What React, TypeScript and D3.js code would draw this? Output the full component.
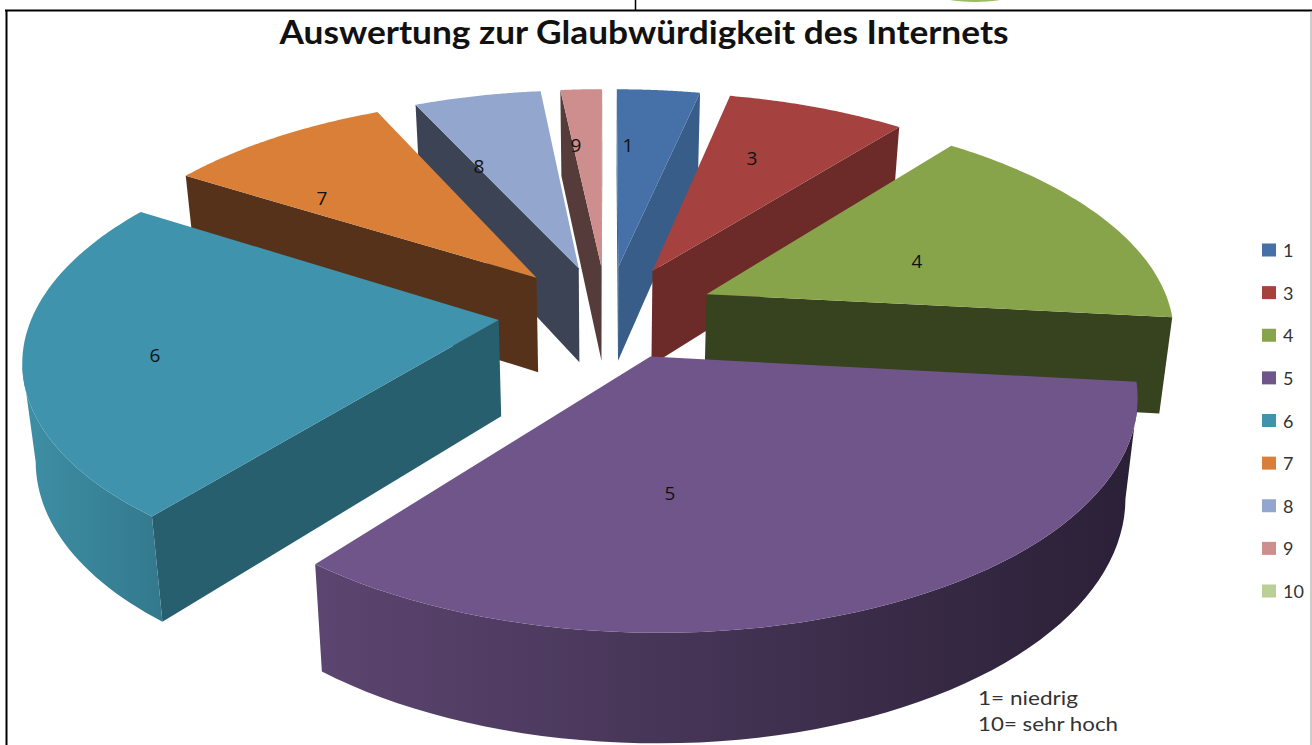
import React from "react";
import * as d3 from "d3";

const categories = ["1", "3", "4", "5", "6", "7", "8", "9", "10"];
const shares = [3.4, 7.3, 16.0, 34.0, 23.2, 9.2, 5.2, 1.7, 0];
const topColors = ["#4571A8", "#A5423F", "#87A44B", "#70558B", "#3F93AD", "#D97F38", "#92A6CE", "#CE8E8D", "#B9CF96"];
const wallColors = ["#375D88", "#6C2B29", "#37421F", "#2F2439", "#285F6F", "#57321A", "#3C4355", "#563B3B", "#5A6B45"];
const rimLeft = ["#375D88", "#6C2B29", "#37421F", "#5C4570", "#3E8FA5", "#57321A", "#3C4355", "#563B3B", "#5A6B45"];
const rimRight = ["#375D88", "#6C2B29", "#37421F", "#2A2036", "#33798D", "#57321A", "#3C4355", "#563B3B", "#5A6B45"];
const title = "Auswertung zur Glaubwürdigkeit des Internets";
const noteLines = ["1= niedrig", "10= sehr hoch"];

// layout
const labelAnchors: [number, number][] = [[628, 145], [752, 158], [917, 261], [670, 493], [155, 355], [322, 198], [479, 166], [576, 145], [0, 0]];
const noteWidths = [100, 140];
const CX = 607, CY = 312, F = 465, S = 218, K = 0.155, H = 96, SHRINK = 0.023, EXPLODE_U = 0.235, EXPLODE_V = 0.215;

function project(u: number, v: number, z: number): [number, number] {
  const w = 1 - K * v;
  const scale = 1 - SHRINK * z;
  return [CX + (F * u / w) * scale, CY + (S * v / w) * scale + (H * z) / w];
}

const path = d3.line<[number, number]>().curve(d3.curveLinearClosed);

const arcs = d3.pie<number>().value((d) => d).sort(null)(shares);

type Piece = { i: number; mid: number; top: string; walls: { d: string; fill: string }[]; gradient: null | { id: string; x1: number; x2: number; from: string; to: string } };

function buildPiece(i: number): Piece {
  const a = arcs[i];
  const mid = (a.startAngle + a.endAngle) / 2;
  const au = EXPLODE_U * Math.sin(mid);
  const av = -EXPLODE_V * Math.cos(mid);
  const rim = (t: number): [number, number] => [au + Math.sin(t), av - Math.cos(t)];
  const thetas = d3.range(0, 61).map((k) => a.startAngle + ((a.endAngle - a.startAngle) * k) / 60);
  const camV = 1 / K;
  const faces = (nu: number, nv: number, pu: number, pv: number) => nu * (0 - pu) + nv * (camV - pv) > 0;

  const topPts: [number, number][] = [project(au, av, 0), ...thetas.map((t) => { const [u, v] = rim(t); return project(u, v, 0); })];
  const walls: { d: string; fill: string }[] = [];
  const radial = (t: number, sign: number) => {
    const [u, v] = rim(t);
    const nu = sign * Math.cos(t), nv = sign * Math.sin(t);
    if (faces(nu, nv, (u + au) / 2, (v + av) / 2)) {
      walls.push({
        d: path([project(au, av, 0), project(u, v, 0), project(u, v, 1), project(au, av, 1)]) as string,
        fill: wallColors[i],
      });
    }
  };
  radial(a.startAngle, -1);
  radial(a.endAngle, 1);

  const front = thetas.filter((t) => { const [u, v] = rim(t); return faces(Math.sin(t), -Math.cos(t), u, v); });
  let gradient: Piece["gradient"] = null;
  if (front.length > 1) {
    const upper = front.map((t) => { const [u, v] = rim(t); return project(u, v, 0); });
    const lower = front.map((t) => { const [u, v] = rim(t); return project(u, v, 1); }).reverse();
    const xs = upper.concat(lower).map((p) => p[0]);
    const id = `rim-${i}`;
    gradient = { id, x1: d3.min(xs) as number, x2: d3.max(xs) as number, from: rimLeft[i], to: rimRight[i] };
    walls.push({ d: path(upper.concat(lower)) as string, fill: `url(#${id})` });
  }
  return { i, mid, top: path(topPts) as string, walls, gradient };
}

const pieces = d3.range(shares.length)
  .filter((i) => shares[i] > 0)
  .map(buildPiece)
  .sort((p, q) => Math.cos(q.mid) - Math.cos(p.mid));

const legendY = d3.scalePoint<string>().domain(categories).range([250, 591]);

export default function App() {
  return (
    <svg width={1312} height={745} style={{ position: "fixed", left: 0, top: 0, background: "#fff" }}>
      <defs>
        {pieces.filter((p) => p.gradient).map((p) => (
          <linearGradient key={p.i} id={p.gradient!.id} gradientUnits="userSpaceOnUse" x1={p.gradient!.x1} x2={p.gradient!.x2} y1={0} y2={0}>
            <stop offset="0" stopColor={p.gradient!.from} />
            <stop offset="1" stopColor={p.gradient!.to} />
          </linearGradient>
        ))}
      </defs>

      {/* frame from the surrounding document */}
      <line x1={5} x2={1312} y1={10.5} y2={10.5} stroke="#000" strokeWidth={2} />
      <line x1={6.5} x2={6.5} y1={10} y2={745} stroke="#000" strokeWidth={2} />
      <line x1={635.5} x2={635.5} y1={0} y2={10} stroke="#000" strokeWidth={1.5} />
      <line x1={1311} x2={1311} y1={11} y2={745} stroke="#999" strokeWidth={1} />
      <ellipse cx={975} cy={-3} rx={31} ry={5} fill="#9DBB61" />

      <text x={644} y={44} textAnchor="middle" fontFamily="Lato, sans-serif" fontWeight={700} fontSize={33} fill="#111" textLength={729} lengthAdjust="spacingAndGlyphs">{title}</text>

      {pieces.map((p) => (
        <g key={p.i}>
          {p.walls.map((w, k) => <path key={k} d={w.d} fill={w.fill} />)}
          <path d={p.top} fill={topColors[p.i]} />
        </g>
      ))}

      {pieces.map((p) => (
        <text key={p.i} x={labelAnchors[p.i][0]} y={labelAnchors[p.i][1]} textAnchor="middle" dominantBaseline="central" fontFamily="Open Sans, sans-serif" fontSize={19} fill="#111">{categories[p.i]}</text>
      ))}

      {categories.map((c, i) => (
        <g key={c}>
          <rect x={1262} y={(legendY(c) as number) - 6.5} width={14} height={13} fill={topColors[i]} />
          <text x={1283} y={legendY(c) as number} dominantBaseline="central" fontFamily="Lato, sans-serif" fontSize={18} fill="#333">{c}</text>
        </g>
      ))}

      {noteLines.map((t, i) => (
        <text key={t} x={978} y={705 + i * 26} fontFamily="Lato, sans-serif" fontSize={20} fill="#333" textLength={noteWidths[i]} lengthAdjust="spacingAndGlyphs">{t}</text>
      ))}
    </svg>
  );
}
